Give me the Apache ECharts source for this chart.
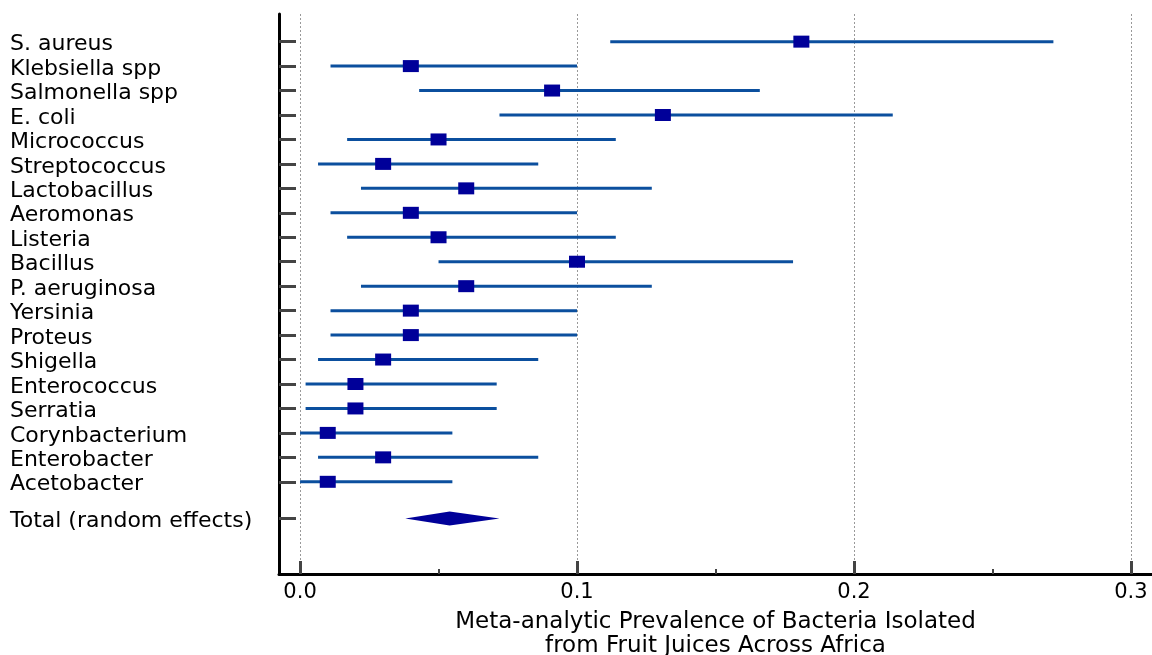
<!DOCTYPE html>
<html>
<head>
<meta charset="utf-8">
<script src="https://cdn.jsdelivr.net/npm/echarts@6/dist/echarts.min.js"></script>
<style>html,body{margin:0;padding:0;background:#fff}#c{width:1152px;height:655px}</style>
</head>
<body>
<div id="c"></div>
<script>
var bacteria = ["S. aureus","Klebsiella spp","Salmonella spp","E. coli","Micrococcus","Streptococcus","Lactobacillus","Aeromonas","Listeria","Bacillus","P. aeruginosa","Yersinia","Proteus","Shigella","Enterococcus","Serratia","Corynbacterium","Enterobacter","Acetobacter"];
var estimate = [0.181,0.040,0.091,0.131,0.050,0.030,0.060,0.040,0.050,0.100,0.060,0.040,0.040,0.030,0.020,0.020,0.010,0.030,0.010];
var lower    = [0.112,0.011,0.043,0.072,0.017,0.0065,0.022,0.011,0.017,0.050,0.022,0.011,0.011,0.0065,0.002,0.002,0.000,0.0065,0.000];
var upper    = [0.272,0.100,0.166,0.214,0.114,0.086,0.127,0.100,0.114,0.178,0.127,0.100,0.100,0.086,0.071,0.071,0.055,0.086,0.055];
var totalLabel = "Total (random effects)";
var totalEst = 0.054, totalLower = 0.038, totalUpper = 0.072;
var xTicks = [0, 0.1, 0.2, 0.3];
var xMinorTicks = [0.05, 0.15, 0.25];
var xTickLabels = ["0.0", "0.1", "0.2", "0.3"];

var rowPos = bacteria.map(function(_, i){ return i; });
var totalPos = bacteria.length + 0.5;
var tickPos = rowPos.concat([totalPos]);
var LABEL_SHIFT = 0.12;
var labelPos = tickPos.map(function(v){ return v + LABEL_SHIFT; });
var yNames = bacteria.concat([totalLabel]);

var ciData = bacteria.map(function(_, i){ return [lower[i], upper[i], rowPos[i]]; });
var ptData = bacteria.map(function(_, i){ return [estimate[i], rowPos[i]]; });

var FONT = "DejaVu Sans";
var GRID_TOP = 14, GRID_BOTTOM = 81, H = 655;
var chart = echarts.init(document.getElementById('c'));
chart.setOption({
  animation: false,
  grid: { left: 279, right: 0, top: GRID_TOP, bottom: GRID_BOTTOM, containLabel: false, outerBoundsMode: 'none' },
  xAxis: [{
    type: 'value', min: -0.0076, max: 0.3076, position: 'bottom',
    axisLine: { show: true, onZero: false, lineStyle: { color: '#000', width: 3 } },
    axisTick: { show: true, inside: true, length: 13, customValues: xTicks, lineStyle: { color: '#444', width: 3 } },
    axisLabel: { customValues: xTicks, margin: 8, color: '#000', fontFamily: FONT, fontSize: 21,
      formatter: function(v){ var i = xTicks.indexOf(v); return i >= 0 ? xTickLabels[i] : ''; } },
    splitLine: { show: true, lineStyle: { color: '#999', type: [2, 2], width: 1 } },
    name: 'Meta-analytic Prevalence of Bacteria Isolated\nfrom Fruit Juices Across Africa',
    nameLocation: 'middle', nameGap: 36,
    nameTextStyle: { color: '#000', fontFamily: FONT, fontSize: 23, lineHeight: 24 }
  }, {
    type: 'value', min: -0.0076, max: 0.3076, position: 'top', offset: -(H - GRID_TOP - GRID_BOTTOM),
    axisLine: { show: false },
    axisTick: { show: true, inside: false, length: 5, customValues: xMinorTicks, lineStyle: { color: '#444', width: 2 } },
    axisLabel: { show: false },
    splitLine: { show: false }
  }],
  yAxis: {
    type: 'value', inverse: true, min: -1.13, max: 21.77,
    axisLine: { show: true, onZero: false, lineStyle: { color: '#000', width: 3 } },
    axisTick: { show: true, inside: true, length: 17, customValues: tickPos, lineStyle: { color: '#444', width: 3 } },
    axisLabel: { customValues: labelPos, align: 'left', margin: 269, color: '#000', fontFamily: FONT, fontSize: 22,
      formatter: function(v){
        var i = tickPos.indexOf(Math.round((v - LABEL_SHIFT) * 2) / 2);
        return i >= 0 ? yNames[i] : '';
      } },
    splitLine: { show: false }
  },
  series: [{
    type: 'custom',
    data: ciData,
    encode: { x: [0, 1], y: 2 },
    renderItem: function(params, api){
      var a = api.coord([api.value(0), api.value(2)]);
      var b = api.coord([api.value(1), api.value(2)]);
      return { type: 'line', shape: { x1: a[0], y1: a[1], x2: b[0], y2: b[1] },
        style: { stroke: '#0b4f9e', lineWidth: 3 } };
    },
    z: 2
  }, {
    type: 'scatter',
    data: ptData,
    symbol: 'rect', symbolSize: [16, 12],
    itemStyle: { color: '#000099', opacity: 1 },
    z: 3
  }, {
    type: 'custom',
    data: [[totalLower, totalEst, totalUpper, totalPos]],
    encode: { x: [0, 2], y: 3 },
    renderItem: function(params, api){
      var l = api.coord([api.value(0), api.value(3)]);
      var m = api.coord([api.value(1), api.value(3)]);
      var r = api.coord([api.value(2), api.value(3)]);
      return { type: 'polygon', shape: { points: [[l[0], l[1]], [m[0], m[1] - 7], [r[0], r[1]], [m[0], m[1] + 7]] },
        style: { fill: '#000099' } };
    },
    z: 3
  }]
});
</script>
</body>
</html>
